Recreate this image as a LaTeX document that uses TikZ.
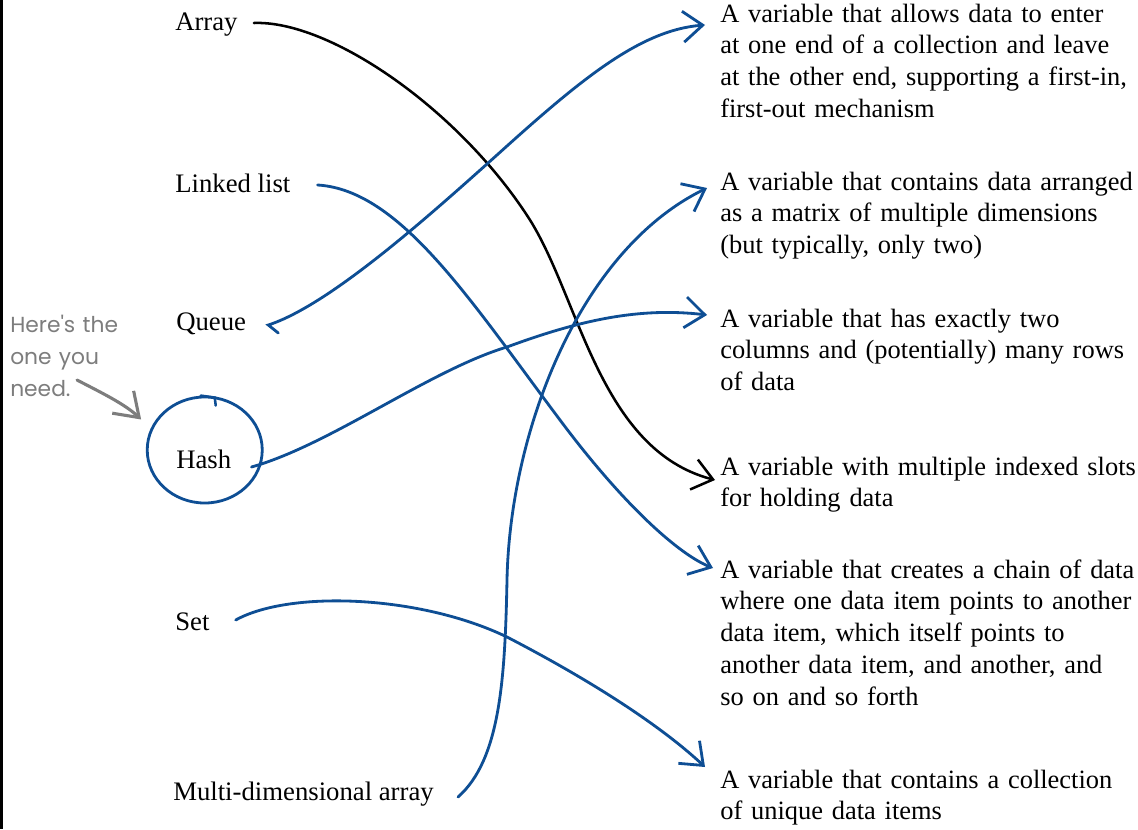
\documentclass[tikz,border=0pt]{standalone}
\usepackage{fontspec}
\setmainfont{Liberation Serif}
\newfontfamily\notefont{Poppins}
\usepackage{tikz}
\usetikzlibrary{calc, arrows.meta, shapes.geometric}
\definecolor{penblue}{RGB}{14,78,148}
\definecolor{pengray}{RGB}{125,125,125}

\begin{document}
\begin{tikzpicture}[x=0.025cm, y=-0.025cm,
    term/.style={anchor=base west, inner sep=0pt, font=\fontsize{19}{23}\selectfont},
    defn/.style={anchor=base west, inner sep=0pt, text width=11cm, align=left,
        font=\fontsize{18.8}{22.7}\selectfont},
    link/.style={draw=penblue, line width=2pt, line cap=round,
        -{Straight Barb[length=14pt,width=22pt]}},
    linkdark/.style={link, draw=black, line width=1.8pt},
    ring/.style={ellipse, draw=penblue, line width=2pt, inner sep=0pt,
        minimum width=2.875cm, minimum height=2.65cm},
    note/.style={anchor=base west, inner sep=0pt, text width=4cm, align=left,
        text=pengray, font=\notefont\fontsize{15.5}{23}\selectfont},
    hintarrow/.style={draw=pengray, line width=2.2pt, line cap=round,
        -{Straight Barb[length=16pt,width=22pt]}}]
    \useasboundingbox (0,0) rectangle (1138,829);
    \draw[line width=1.8pt] (1.3,0) -- (1.3,829);

    % the terms
    \node[term] (array) at (175,30) {Array};
    \node[term] (linked) at (175,192) {Linked list};
    \node[term] (queue) at (176,330) {Queue};
    \node[term] (hash) at (176,468) {Hash};
    \node[term] (set) at (175,630) {Set};
    \node[term] (multi) at (173,800) {Multi-dimensional array};

    % the definitions
    \node[defn] (fifo) at (720,22) {A variable that allows data to enter\\
        at one end of a collection and leave\\
        at the other end, supporting a first-in,\\
        first-out mechanism};
    \node[defn] (matrix) at (720,190) {A variable that contains data arranged\\
        as a matrix of multiple dimensions\\
        (but typically, only two)};
    \node[defn] (pairs) at (720,327) {A variable that has exactly two\\
        columns and (potentially) many rows\\
        of data};
    \node[defn] (slots) at (720,475) {A variable with multiple indexed slots\\
        for holding data};
    \node[defn] (chain) at (720,578) {A variable that creates a chain of data\\
        where one data item points to another\\
        data item, which itself points to\\
        another data item, and another, and\\
        so on and so forth};
    \node[defn] (unique) at (720,788) {A variable that contains a collection\\
        of unique data items};

    % the circled answer and its hint
    \node[ring] (hashring) at ($(hash.base)+(1,-18)$) {};
    \draw[penblue, line width=1.8pt, line cap=round]
        ($(hashring.north)+(-4,0)$) -- ++(14,2) -- ++(1,8);
    \node[note] (hint) at (10,332) {Here's the\\one you\\need.};
    \draw[hintarrow] ($(hint.base west)+(67,48)$) .. controls (100,392) and (125,404) ..
        ($(hashring.155)+(-11,-6)$);

    % the matches
    \draw[linkdark] ($(array.base east)+(16,-7)$) .. controls (330,20) and (460,110) .. (530,220)
        .. controls (580,300) and (600,450) .. ($(slots.base west)+(-5,5)$);
    \draw[link] ($(linked.base east)+(27,-7)$) .. controls (400,190) and (470,300) .. (560,420)
        .. controls (625,507) and (680,555) .. ($(chain.base west)+(-7,-10)$);
    \draw[link] ($(queue.base east)+(32,3)$) -- ($(queue.base east)+(22,-5)$)
        .. controls (330,305) and (430,215) .. (497,155)
        .. controls (580,80) and (640,30) .. ($(fifo.base west)+(-15,3)$);
    \draw[link] ($(hash.base east)+(20,-1)$) .. controls (330,445) and (430,370) .. (507,347)
        .. controls (580,320) and (640,307) .. ($(pairs.base west)+(-13,-12)$);
    \draw[link] ($(set.base east)+(26,-10)$) .. controls (290,590) and (420,595) .. (507,637)
        .. controls (590,680) and (660,725) .. ($(unique.base west)+(-15,-21)$);
    \draw[link] ($(multi.base east)+(24,-3)$) .. controls (500,760) and (505,680) .. (507,580)
        .. controls (510,430) and (580,250) .. ($(matrix.base west)+(-13,-2)$);
\end{tikzpicture}
\end{document}
